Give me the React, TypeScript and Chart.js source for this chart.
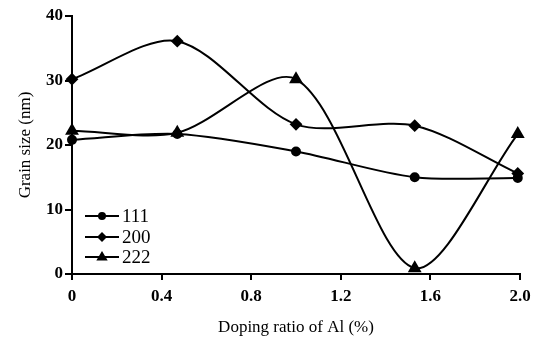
import React, { useEffect, useRef } from "react";
import { Chart, registerables } from "chart.js";

Chart.register(...registerables);

const dopingRatio = [0, 0.47, 1.0, 1.53, 1.99];
const series111 = [20.8, 21.7, 19.0, 15.0, 14.9];
const series200 = [30.2, 36.1, 23.2, 23.0, 15.6];
const series222 = [22.2, 21.9, 30.2, 0.9, 21.7];
const seriesLabels = ["111", "200", "222"];
const xTicks = [0, 0.4, 0.8, 1.2, 1.6, 2.0];
const yTicks = [0, 10, 20, 30, 40];

const FONT = "'Liberation Serif', 'Times New Roman', serif";

const legendPlugin = {
  id: "insideLegend",
  afterDatasetsDraw(chart: any) {
    const ctx = chart.ctx;
    const x0 = 85;
    const x1 = 119;
    const ys = [216, 237, 257];
    ctx.save();
    chart.data.datasets.forEach((ds: any, i: number) => {
      const y = ys[i];
      ctx.strokeStyle = "#000";
      ctx.lineWidth = 2;
      ctx.beginPath();
      ctx.moveTo(x0, y);
      ctx.lineTo(x1, y);
      ctx.stroke();
      const cx = (x0 + x1) / 2;
      const r = ds.pointRadius;
      ctx.fillStyle = "#000";
      ctx.beginPath();
      if (ds.pointStyle === "circle") {
        ctx.arc(cx, y, r, 0, Math.PI * 2);
      } else if (ds.pointStyle === "rectRot") {
        ctx.moveTo(cx, y - r);
        ctx.lineTo(cx + r, y);
        ctx.lineTo(cx, y + r);
        ctx.lineTo(cx - r, y);
        ctx.closePath();
      } else {
        ctx.moveTo(cx, y - r);
        ctx.lineTo(cx + r * 0.95, y + r * 0.6);
        ctx.lineTo(cx - r * 0.95, y + r * 0.6);
        ctx.closePath();
      }
      ctx.fill();
      ctx.font = `19px ${FONT}`;
      ctx.textAlign = "left";
      ctx.textBaseline = "middle";
      ctx.fillText(ds.label, x1 + 3, y + 1);
    });
    ctx.restore();
  },
};

export default function App() {
  const ref = useRef<HTMLCanvasElement | null>(null);
  useEffect(() => {
    document.body.style.margin = "0";
    const mk = (vals: number[]) => dopingRatio.map((x, i) => ({ x, y: vals[i] }));
    const common = {
      borderColor: "#000",
      backgroundColor: "#000",
      pointBackgroundColor: "#000",
      pointBorderColor: "#000",
      borderWidth: 2,
      tension: 0.3,
      fill: false,
      clip: 8,
    };
    const chart = new Chart(ref.current!, {
      type: "line",
      data: {
        datasets: [
          { ...common, label: seriesLabels[0], data: mk(series111), pointStyle: "circle", pointRadius: 4 },
          { ...common, label: seriesLabels[1], data: mk(series200), pointStyle: "rectRot", pointRadius: 5 },
          { ...common, label: seriesLabels[2], data: mk(series222), pointStyle: "triangle", pointRadius: 6 },
        ],
      },
      options: {
        animation: false,
        responsive: false,
        layout: { padding: { top: 16, right: 18, left: 0, bottom: 0 } },
        plugins: { legend: { display: false }, tooltip: { enabled: false } },
        scales: {
          x: {
            type: "linear",
            min: 0,
            max: 2.0,
            afterBuildTicks: (s: any) => {
              s.ticks = xTicks.map((v) => ({ value: v }));
            },
            afterFit: (s: any) => {
              s.height = 69;
            },
            border: { color: "#000", width: 2 },
            grid: { drawOnChartArea: false, color: "#000", lineWidth: 2, tickLength: 6 },
            ticks: {
              color: "#000",
              padding: 6,
              font: { family: FONT, size: 17, weight: "bold" },
              callback: (v: any) => (v === 0 ? "0" : Number(v).toFixed(1)),
            },
            title: {
              display: true,
              text: "Doping ratio of Al (%)",
              color: "#000",
              font: { family: FONT, size: 17 },
              padding: { top: 10, bottom: 5 },
            },
          },
          y: {
            min: 0,
            max: 40,
            afterBuildTicks: (s: any) => {
              s.ticks = yTicks.map((v) => ({ value: v }));
            },
            afterFit: (s: any) => {
              s.width = 72;
            },
            border: { color: "#000", width: 2 },
            grid: { drawOnChartArea: false, color: "#000", lineWidth: 2, tickLength: 7 },
            ticks: {
              color: "#000",
              padding: 2,
              font: { family: FONT, size: 17, weight: "bold" },
            },
            title: {
              display: true,
              text: "Grain size (nm)",
              color: "#000",
              font: { family: FONT, size: 17 },
              padding: { top: 15, bottom: 6 },
            },
          },
        },
      },
      plugins: [legendPlugin],
    } as any);
    return () => chart.destroy();
  }, []);
  return <canvas ref={ref} width={538} height={343} style={{ display: "block" }} />;
}
